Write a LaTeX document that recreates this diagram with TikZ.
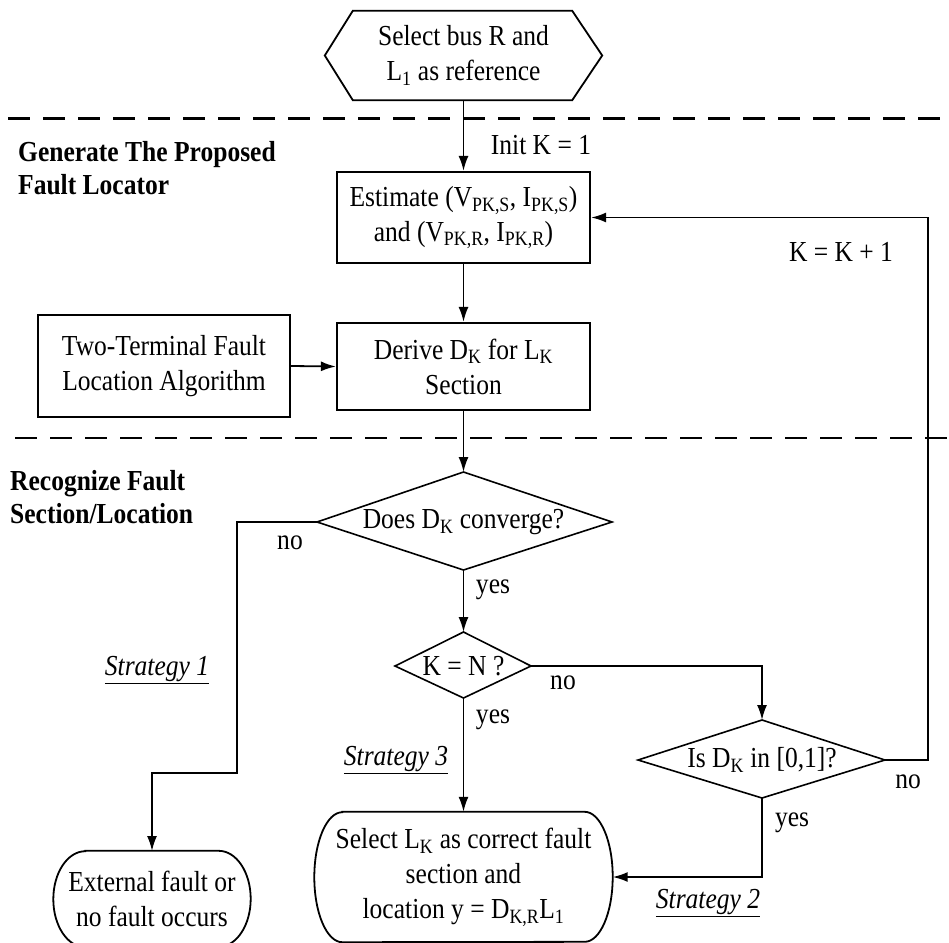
\documentclass[tikz,border=0pt]{standalone}
\usepackage{fontspec}
\setmainfont[FakeStretch=0.88]{Liberation Serif}
\usetikzlibrary{arrows.meta,calc}
\newcommand\sbs[1]{\textsubscript{#1}}
\newcommand\fsz{\fontsize{29}{35}\selectfont}
\begin{document}
\begin{tikzpicture}[x=1pt,y=-1pt,
  every node/.style={font=\fsz, inner sep=0pt},
  box/.style={draw, line width=2.2pt, align=center},
  conn/.style={line width=1.8pt, -{Latex[length=15pt,width=10pt]}},
  wire/.style={line width=1.8pt},
  divider/.style={line width=3pt, dash pattern=on 22pt off 13pt},
  shp/.style={line width=1.8pt},
  dia/.style={line width=1.6pt},
  strat/.style={font=\fsz\itshape},
  sect/.style={font=\fontsize{29}{33}\selectfont\bfseries, align=left, anchor=west}
]
\useasboundingbox (0,0) rectangle (949,942);

% dividers
\coordinate (dv1a) at (8,118);
\coordinate (dv1b) at (949,118);
\coordinate (dv2a) at (15,438);
\coordinate (dv2b) at (949,438);
\draw[divider] (dv1a) -- (dv1b);
\draw[divider, line width=2.2pt] (dv2a) -- (dv2b);

% section labels
\node[sect] (secA) at (18,168) {Generate The Proposed\\Fault Locator};
\node[sect] (secB) at (10,497) {Recognize Fault\\Section/Location};

% start hexagon
\node[minimum width=277pt, minimum height=89pt, align=center] (start) at (463.5,55.5)
  {Select bus R and\\L\sbs{1} as reference};
\draw[shp] ($(start.north west)+(28,0)$) -- ($(start.north east)+(-30,0)$) -- (start.east)
  -- ($(start.south east)+(-30,0)$) -- ($(start.south west)+(28,0)$) -- (start.west) -- cycle;

% boxes
\node[box, minimum width=253pt, minimum height=91pt] (est) at (463.5,217.5)
  {Estimate (V\sbs{PK,S}, I\sbs{PK,S})\\and (V\sbs{PK,R}, I\sbs{PK,R})};
\node[box, minimum width=253pt, minimum height=87pt] (der) at (463.5,366.5)
  {Derive D\sbs{K} for L\sbs{K}\\Section};
\node[box, minimum width=252pt, minimum height=102pt] (two) at (164,366)
  {Two-Terminal Fault\\Location Algorithm};

% diamond 1
\node (d1) at (463.5,522) {Does D\sbs{K} converge?};
\coordinate (d1n) at (463.5,472);
\coordinate (d1s) at (463.5,570);
\coordinate (d1w) at (317,522);
\coordinate (d1e) at (612,522);
\draw[dia] (d1n) -- (d1e) -- (d1s) -- (d1w) -- cycle;

% diamond 2
\node (d2) at (463.5,666) {K = N ?};
\coordinate (d2n) at (463.5,632);
\coordinate (d2s) at (463.5,698);
\coordinate (d2w) at (395,666);
\coordinate (d2e) at (531,666);
\draw[dia] (d2n) -- (d2e) -- (d2s) -- (d2w) -- cycle;

% diamond 3
\node (d3) at (762,760) {Is D\sbs{K} in [0,1]?};
\coordinate (d3n) at (762,720);
\coordinate (d3s) at (762,798);
\coordinate (d3w) at (638,760);
\coordinate (d3e) at (885,760);
\draw[dia] (d3n) -- (d3e) -- (d3s) -- (d3w) -- cycle;

% terminals
\node[minimum width=298pt, minimum height=130pt, align=center] (sel) at (463.5,877)
  {Select L\sbs{K} as correct fault\\section and\\location y = D\sbs{K,R}L\sbs{1}};
\draw[shp] ($(sel.north west)+(28,0)$) -- ($(sel.north east)+(-28,0)$)
  arc[start angle=90, end angle=-90, x radius=28pt, y radius=65pt]
  -- ($(sel.south west)+(28,0)$)
  arc[start angle=270, end angle=90, x radius=28pt, y radius=65pt] -- cycle;

\node[minimum width=197pt, minimum height=92pt, align=center] (ext) at (152,899)
  {External fault or\\no fault occurs};
\draw[shp] ($(ext.north west)+(32,-2)$) -- ($(ext.north east)+(-32,-2)$)
  arc[start angle=90, end angle=-90, x radius=32pt, y radius=48pt]
  -- ($(ext.south west)+(32,2)$)
  arc[start angle=270, end angle=90, x radius=32pt, y radius=48pt] -- cycle;

% connectors
\draw[conn] (start.south) -- (est.north);
\draw[conn] (est.south) -- (der.north);
\draw[conn] (two.east) -- (der.west);
\draw[conn] (der.south) -- (d1n);
\coordinate (k1) at (237,773);
\coordinate (k2) at (152,773);
\coordinate (extTop) at (152,851);
\draw[conn] (d1w) -| (k1) -- (k2) -- (extTop);
\draw[conn] (d1s) -- (d2n);
\draw[conn] (d2e) -| (d3n);
\draw[conn] (d2s) -- (sel.north);
\draw[conn] (d3s) |- (sel.east);
\coordinate (fb) at (928,217.5);
\draw[conn] (d3e) -| (fb) -- (est.east);

% labels
\node (lInit) at (541,145) {Init K = 1};
\node (lInc) at (841,252) {K = K + 1};
\node (lno1) at (290,543) {no};
\node (lyes1) at (493,590) {yes};
\node (lno2) at (563,683) {no};
\node (lyes2) at (493,720) {yes};
\node (lno3) at (908,782) {no};
\node (lyes3) at (792,823) {yes};
\node[strat] (s1) at (157,670) {\underline{Strategy 1}};
\node[strat] (s3) at (396,760) {\underline{Strategy 3}};
\node[strat] (s2) at (708,903) {\underline{Strategy 2}};
\end{tikzpicture}
\end{document}
